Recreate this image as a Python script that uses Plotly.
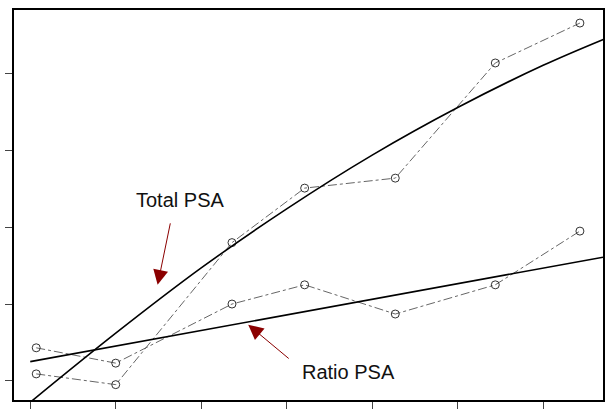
import plotly.graph_objects as go

# observed points
x_obs = [0.07, 1.0, 2.36, 3.21, 4.27, 5.44, 6.43]
total_psa = [0.09, -0.05, 1.80, 2.51, 2.64, 4.14, 4.66]
ratio_psa = [0.43, 0.23, 1.00, 1.25, 0.87, 1.25, 1.95]

# fitted curves
x_fit_total = [0.0, 1.0, 2.0, 3.0, 4.0, 5.0, 6.0, 6.71]
y_fit_total = [-0.28, 0.62, 1.47, 2.24, 2.94, 3.56, 4.11, 4.45]
x_fit_ratio = [0.0, 6.70]
y_fit_ratio = [0.25, 1.61]

x_ticks = [0, 1, 2, 3, 4, 5, 6]
y_ticks = [0, 1, 2, 3, 4]

fig = go.Figure()
for ys in (total_psa, ratio_psa):
    fig.add_trace(go.Scatter(
        x=x_obs, y=ys, mode="lines+markers",
        line=dict(color="#666666", width=1, dash="dashdot"),
        marker=dict(symbol="circle-open", size=8, color="#333333", line=dict(width=1)),
        showlegend=False, cliponaxis=True))
fig.add_trace(go.Scatter(x=x_fit_total, y=y_fit_total, mode="lines",
                         line=dict(color="black", width=1.6, shape="spline", smoothing=1.0),
                         showlegend=False))
fig.add_trace(go.Scatter(x=x_fit_ratio, y=y_fit_ratio, mode="lines",
                         line=dict(color="black", width=1.6),
                         showlegend=False))

arrow_col = "#8B0000"
fig.add_annotation(x=1.49, y=1.25, ax=13, ay=-63, text="", showarrow=True,
                   arrowhead=2, arrowsize=3, arrowwidth=1, arrowcolor=arrow_col)
fig.add_annotation(x=2.55, y=0.73, ax=42, ay=35, text="", showarrow=True,
                   arrowhead=2, arrowsize=3, arrowwidth=1, arrowcolor=arrow_col)
fig.add_annotation(x=1.75, y=2.35, text="Total PSA", showarrow=False,
                   font=dict(family="Liberation Sans, Arial", size=20, color="#111111"))
fig.add_annotation(x=3.72, y=0.12, text="Ratio PSA", showarrow=False,
                   font=dict(family="Liberation Sans, Arial", size=20, color="#111111"))

axis_common = dict(showgrid=False, zeroline=False, showline=True, linecolor="black",
                   linewidth=1.5, mirror=True, ticks="outside", ticklen=7,
                   tickcolor="#444444", showticklabels=False)
fig.update_xaxes(range=[-0.19, 6.70], tickvals=x_ticks, **axis_common)
fig.update_yaxes(range=[-0.25, 4.83], tickvals=y_ticks, **axis_common)

fig.update_layout(width=608, height=420, plot_bgcolor="white", paper_bgcolor="white",
                  margin=dict(l=14, r=3, t=10, b=20))
fig.write_html("out.html")
